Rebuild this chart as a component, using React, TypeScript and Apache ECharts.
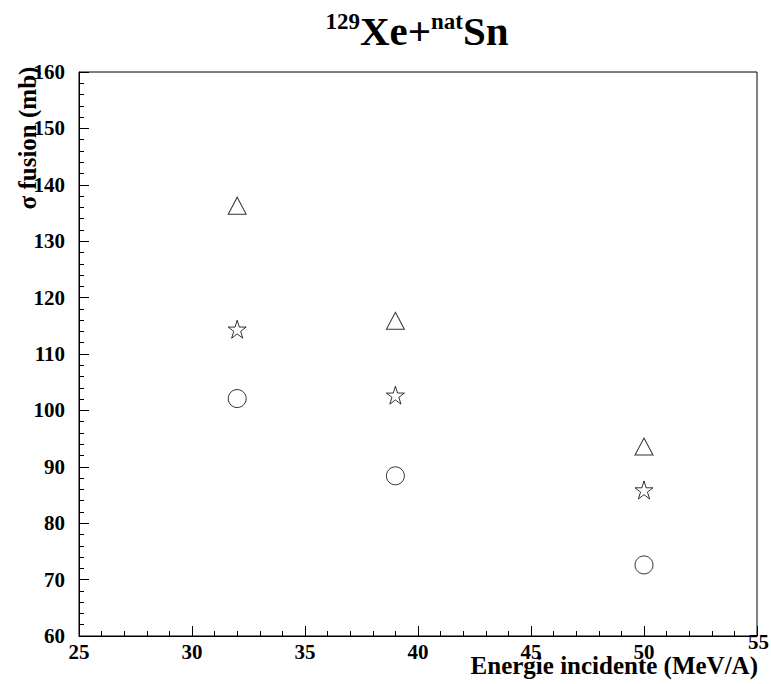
import React, { useEffect, useRef } from "react";
import * as echarts from "echarts";

const energies = [32, 39, 50];
const triangleValues = [136.3, 115.9, 93.6];
const starValues = [114.4, 102.7, 85.9];
const circleValues = [102.1, 88.4, 72.6];

const xTicks = { min: 25, max: 55, interval: 5 };
const yTicks = { min: 60, max: 160, interval: 10 };

const titleParts = { sup1: "129", main1: "Xe+", sup2: "nat", main2: "Sn" };
const yName = "σ fusion (mb)";
const xName = "Energie incidente (MeV/A)";

const STAR =
  "path://M0,-10 L2.245,-3.09 L9.51,-3.09 L3.633,1.18 L5.878,8.09 L0,3.82 L-5.878,8.09 L-3.633,1.18 L-9.51,-3.09 L-2.245,-3.09 Z";

const FONT = "Liberation Serif";

function pairs(vals: number[]) {
  return energies.map((e, i) => [e, vals[i]]);
}

export default function App() {
  const ref = useRef<HTMLDivElement>(null);
  useEffect(() => {
    if (!ref.current) return;
    const chart = echarts.init(ref.current, null, { renderer: "svg" });
    const markerStyle = { color: "#ffffff", borderColor: "#000", borderWidth: 1 };
    const labelFont = {
      fontFamily: FONT,
      fontWeight: "bold" as const,
      fontSize: 21,
      color: "#000",
    };
    chart.setOption({
      animation: false,
      backgroundColor: "#fff",
      textStyle: { fontFamily: FONT },
      grid: {
        left: 79,
        right: 14,
        top: 72,
        bottom: 48,
        containLabel: false,
        outerBoundsMode: "none",
        show: true,
        borderColor: "#000",
        borderWidth: 1,
        backgroundColor: "transparent",
      },
      xAxis: {
        type: "value",
        min: xTicks.min,
        max: xTicks.max,
        interval: xTicks.interval,
        axisLine: { show: true, lineStyle: { color: "#000", width: 1 } },
        axisTick: { show: true, inside: true, length: 10, lineStyle: { color: "#000" } },
        minorTick: { show: true, splitNumber: 5, length: 5, lineStyle: { color: "#000" } },
        splitLine: { show: false },
        axisLabel: {
          ...labelFont,
          margin: 5,
          formatter: (v: number) => (v === xTicks.max ? `{e|${v}}` : `{n|${v}}`),
          rich: {
            n: { ...labelFont },
            e: { ...labelFont, lineHeight: 2, padding: [0, 0, 0, 3] },
          },
        },
      },
      yAxis: {
        type: "value",
        min: yTicks.min,
        max: yTicks.max,
        interval: yTicks.interval,
        axisLine: { show: true, lineStyle: { color: "#000", width: 1 } },
        axisTick: { show: true, inside: true, length: 10, lineStyle: { color: "#000" } },
        minorTick: { show: true, splitNumber: 5, length: 5, lineStyle: { color: "#000" } },
        splitLine: { show: false },
        axisLabel: { ...labelFont, margin: 14 },
      },
      series: [
        {
          type: "scatter",
          data: pairs(triangleValues),
          symbol: "triangle",
          symbolSize: [18, 17],
          itemStyle: markerStyle,
        },
        {
          type: "scatter",
          data: pairs(starValues),
          symbol: STAR,
          symbolSize: 18,
          itemStyle: markerStyle,
        },
        {
          type: "scatter",
          data: pairs(circleValues),
          symbol: "circle",
          symbolSize: 18,
          itemStyle: markerStyle,
        },
      ],
      graphic: [
        {
          type: "text",
          x: 417,
          y: 10,
          style: {
            text: `{s|${titleParts.sup1}}{b|${titleParts.main1}}{s|${titleParts.sup2}}{b|${titleParts.main2}}`,
            fill: "#000",
            align: "center",
            verticalAlign: "top",
            rich: {
              s: {
                fontFamily: FONT,
                fontWeight: "bold",
                fontSize: 23,
                verticalAlign: "top",
                fill: "#000",
              },
              b: {
                fontFamily: FONT,
                fontWeight: "bold",
                fontSize: 41,
                verticalAlign: "bottom",
                fill: "#000",
              },
            },
          },
        },
        {
          type: "text",
          x: 27,
          y: 138,
          rotation: Math.PI / 2,
          style: {
            text: yName,
            fontFamily: FONT,
            fontWeight: "bold",
            fontSize: 25,
            fill: "#000",
            align: "center",
            verticalAlign: "middle",
          },
        },
        {
          type: "text",
          x: 758,
          y: 665,
          style: {
            text: xName,
            fontFamily: FONT,
            fontWeight: "bold",
            fontSize: 25,
            fill: "#000",
            align: "right",
            verticalAlign: "middle",
          },
        },
      ],
    });
    return () => chart.dispose();
  }, []);
  return (
    <div
      ref={ref}
      style={{ position: "fixed", left: 0, top: 0, width: 771, height: 684, background: "#fff" }}
    />
  );
}
